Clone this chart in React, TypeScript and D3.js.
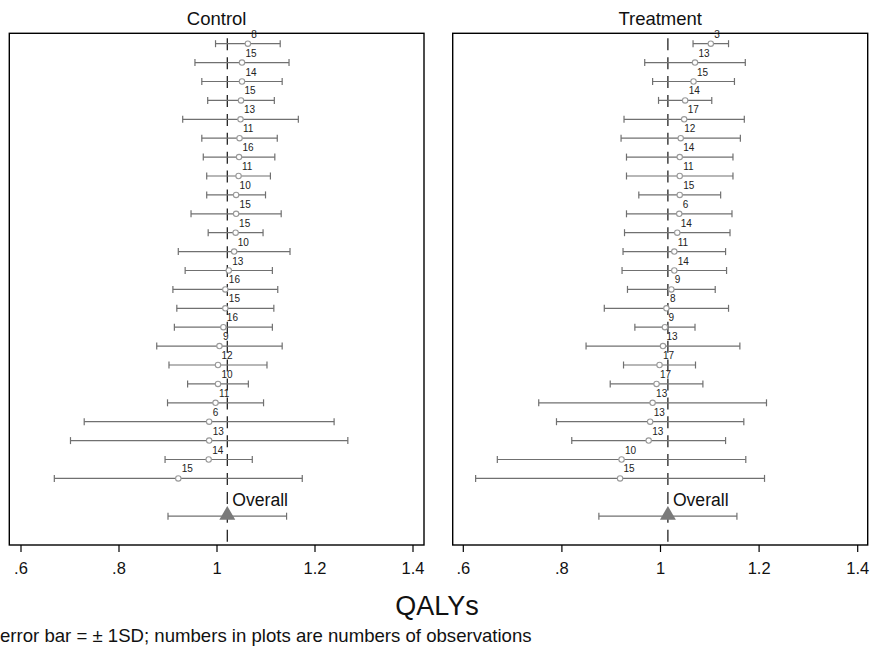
import { useRef, useEffect } from "react"
import * as d3 from "d3"

const WIDTH = 871
const HEIGHT = 649
const FONT = "'Liberation Sans', Arial, sans-serif"

// ── Data ────────────────────────────────────────────────────────────────
const PANEL_TITLES = ["Control", "Treatment"]
const X_TICKS = [0.6, 0.8, 1, 1.2, 1.4]
const X_TICK_LABELS = [".6", ".8", "1", "1.2", "1.4"]

const controlN = [8, 15, 14, 15, 13, 11, 16, 11, 10, 15, 15, 10, 13, 16, 15, 16, 9, 12, 10, 11, 6, 13, 14, 15]
const controlMean = [1.063, 1.051, 1.051, 1.049, 1.048, 1.046, 1.045, 1.044, 1.039, 1.039, 1.038, 1.035, 1.024, 1.017, 1.017, 1.013, 1.005, 1.002, 1.002, 0.997, 0.984, 0.984, 0.983, 0.921]
const controlSD = [0.066, 0.096, 0.082, 0.068, 0.118, 0.077, 0.073, 0.065, 0.06, 0.092, 0.056, 0.114, 0.089, 0.107, 0.099, 0.1, 0.128, 0.1, 0.062, 0.098, 0.255, 0.283, 0.089, 0.253]
const controlOverall = { mean: 1.021, sd: 0.121 }

const treatN = [3, 13, 15, 14, 17, 12, 14, 11, 15, 6, 14, 11, 14, 9, 8, 9, 13, 17, 17, 13, 13, 13, 10, 15]
const treatMean = [1.102, 1.07, 1.067, 1.05, 1.048, 1.041, 1.039, 1.039, 1.039, 1.038, 1.034, 1.028, 1.028, 1.022, 1.012, 1.009, 1.005, 0.998, 0.992, 0.984, 0.979, 0.976, 0.921, 0.918]
const treatSD = [0.036, 0.102, 0.083, 0.054, 0.122, 0.121, 0.108, 0.108, 0.083, 0.107, 0.107, 0.104, 0.106, 0.089, 0.126, 0.061, 0.156, 0.073, 0.094, 0.231, 0.19, 0.156, 0.252, 0.293]
const treatOverall = { mean: 1.015, sd: 0.14 }

const X_TITLE = "QALYs"
const NOTE = "error bar = \u00b1 1SD; numbers in plots are numbers of observations"

interface Row { n: number; mean: number; sd: number; idx: number }

const panels = [
  { title: PANEL_TITLES[0], n: controlN, mean: controlMean, sd: controlSD, overall: controlOverall,
    box: [9.3, 424], range: [21, 413] },
  { title: PANEL_TITLES[1], n: treatN, mean: treatMean, sd: treatSD, overall: treatOverall,
    box: [452.7, 867.7], range: [463.3, 857.7] },
]

const BOX_TOP = 33.3
const BOX_BOTTOM = 545
const OVERALL_ROW = 25

export default function App() {
  const svgRef = useRef<SVGSVGElement>(null)

  useEffect(() => {
    const svg = svgRef.current
    if (!svg) return
    d3.select(svg).selectAll("*").remove()
    const root = d3.select(svg)

    const yScale = d3.scaleLinear().domain([0, OVERALL_ROW]).range([43.7, 516.2])

    panels.forEach((p) => {
      const xScale = d3.scaleLinear().domain([0.6, 1.4]).range(p.range)
      const rows: Row[] = p.n.map((n, i) => ({ n, mean: p.mean[i], sd: p.sd[i], idx: i }))
      const g = root.append("g")

      // ── Title ──
      g.append("text")
        .attr("x", (p.box[0] + p.box[1]) / 2)
        .attr("y", 25)
        .attr("text-anchor", "middle")
        .attr("font-family", FONT)
        .attr("font-size", 18.5)
        .attr("fill", "#111")
        .text(p.title)

      // ── Box ──
      g.append("rect")
        .attr("x", p.box[0]).attr("y", BOX_TOP)
        .attr("width", p.box[1] - p.box[0]).attr("height", BOX_BOTTOM - BOX_TOP)
        .attr("fill", "white")
        .attr("stroke", "#000")
        .attr("stroke-width", 1.4)

      // ── Overall-mean reference line ──
      const refX = xScale(p.overall.mean)
      g.append("line")
        .attr("x1", refX).attr("x2", refX)
        .attr("y1", BOX_TOP + 5).attr("y2", BOX_BOTTOM)
        .attr("stroke", "#111")
        .attr("stroke-width", 1.2)
        .attr("stroke-dasharray", "12,6.9")

      // ── Whiskers ──
      const whisk = g.append("g").attr("stroke", "#707070").attr("stroke-width", 1.2)
      whisk.selectAll(".bar")
        .data(rows)
        .join("line")
        .attr("x1", (d) => xScale(d.mean - d.sd))
        .attr("x2", (d) => xScale(d.mean + d.sd))
        .attr("y1", (d) => yScale(d.idx)).attr("y2", (d) => yScale(d.idx))
      whisk.selectAll(".capl")
        .data(rows.flatMap((d) => [{ v: d.mean - d.sd, idx: d.idx }, { v: d.mean + d.sd, idx: d.idx }]))
        .join("line")
        .attr("x1", (d) => xScale(d.v)).attr("x2", (d) => xScale(d.v))
        .attr("y1", (d) => yScale(d.idx) - 3.5).attr("y2", (d) => yScale(d.idx) + 3.5)

      // ── Markers ──
      g.selectAll(".pt")
        .data(rows)
        .join("circle")
        .attr("cx", (d) => xScale(d.mean))
        .attr("cy", (d) => yScale(d.idx))
        .attr("r", 2.7)
        .attr("fill", "white")
        .attr("stroke", "#999")
        .attr("stroke-width", 1.1)

      // ── n labels ──
      g.selectAll(".lab")
        .data(rows)
        .join("text")
        .attr("x", (d) => xScale(d.mean) + 3.5)
        .attr("y", (d) => yScale(d.idx) - 6)
        .attr("font-family", FONT)
        .attr("font-size", 10)
        .attr("fill", "#222")
        .text((d) => d.n)

      // ── Overall row ──
      const oy = yScale(OVERALL_ROW)
      const o = p.overall
      const ow = g.append("g").attr("stroke", "#707070").attr("stroke-width", 1.2)
      ow.append("line")
        .attr("x1", xScale(o.mean - o.sd)).attr("x2", xScale(o.mean + o.sd))
        .attr("y1", oy).attr("y2", oy)
      ;[o.mean - o.sd, o.mean + o.sd].forEach((v) => {
        ow.append("line")
          .attr("x1", xScale(v)).attr("x2", xScale(v))
          .attr("y1", oy - 3.5).attr("y2", oy + 3.5)
      })
      g.append("path")
        .attr("d", d3.symbol(d3.symbolTriangle, 110)())
        .attr("transform", `translate(${xScale(o.mean)},${oy - 1})`)
        .attr("fill", "#7a7a7a")
      g.append("text")
        .attr("x", xScale(o.mean) + 5)
        .attr("y", oy - 10)
        .attr("font-family", FONT)
        .attr("font-size", 17.6)
        .attr("fill", "#111")
        .text("Overall")

      // ── X axis ──
      const axis = g.append("g").attr("transform", `translate(0,${BOX_BOTTOM})`)
      axis.selectAll("line")
        .data(X_TICKS)
        .join("line")
        .attr("x1", (d) => xScale(d)).attr("x2", (d) => xScale(d))
        .attr("y1", 0).attr("y2", 7)
        .attr("stroke", "#000")
        .attr("stroke-width", 1.2)
      axis.selectAll("text")
        .data(X_TICKS)
        .join("text")
        .attr("x", (d) => xScale(d))
        .attr("y", 28.5)
        .attr("text-anchor", "middle")
        .attr("font-family", FONT)
        .attr("font-size", 16.5)
        .attr("fill", "#111")
        .text((_, i) => X_TICK_LABELS[i])
    })

    root.append("text")
      .attr("x", 437)
      .attr("y", 615)
      .attr("text-anchor", "middle")
      .attr("font-family", FONT)
      .attr("font-size", 27)
      .attr("fill", "#111")
      .text(X_TITLE)

    root.append("text")
      .attr("x", 0)
      .attr("y", 642)
      .attr("font-family", FONT)
      .attr("font-size", 18.6)
      .attr("fill", "#111")
      .text(NOTE)
  }, [])

  return (
    <svg
      ref={svgRef}
      width={WIDTH}
      height={HEIGHT}
      style={{ position: "absolute", left: 0, top: 0, background: "white", display: "block" }}
    />
  )
}
